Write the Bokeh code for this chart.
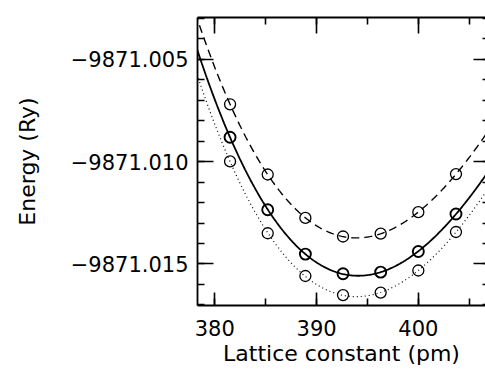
import numpy as np
from bokeh.plotting import figure
from bokeh.models import (Range1d, LinearAxis, SingleIntervalTicker,
                          CustomJSTickFormatter)
from bokeh.embed import file_html
from bokeh.resources import INLINE

# ---- data ----
lattice = [381.5, 385.2, 388.9, 392.6, 396.3, 400.0, 403.7]
energy_dashed = [-9871.00720, -9871.01063, -9871.01275, -9871.01366,
                 -9871.01352, -9871.01247, -9871.01061]
energy_solid = [-9871.00881, -9871.01235, -9871.01452, -9871.01548,
                -9871.01540, -9871.01439, -9871.01256]
energy_dotted = [-9871.00999, -9871.01350, -9871.01559, -9871.01652,
                 -9871.01640, -9871.01532, -9871.01344]

x_range = (378.3, 406.6)
y_range = (-9871.01703, -9871.00296)

FONT = "DejaVu Sans"

p = figure(width=485, height=368, output_backend="svg", toolbar_location=None,
           x_range=Range1d(*x_range), y_range=Range1d(*y_range),
           min_border_left=197, min_border_right=0, min_border_top=17,
           min_border_bottom=60, x_axis_label="Lattice constant (pm)",
           y_axis_label="Energy (Ry)")
p.xgrid.visible = False
p.ygrid.visible = False
p.outline_line_color = None
p.background_fill_color = "white"
p.border_fill_color = "white"

fmt_y = CustomJSTickFormatter(code="return (tick < 0 ? '\\u2212' : '') + Math.abs(tick).toFixed(3);")
fmt_x = CustomJSTickFormatter(code="return tick.toFixed(0);")


def style_axis(ax, ticker, major_in, minor_in, show_labels, line=True, standoff=0):
    ax.ticker = ticker
    ax.major_tick_in = major_in
    ax.major_tick_out = 0
    ax.minor_tick_in = minor_in
    ax.minor_tick_out = 0
    ax.major_tick_line_color = "black"
    ax.minor_tick_line_color = "black"
    ax.major_tick_line_width = 1.6
    ax.minor_tick_line_width = 1.6
    ax.axis_line_color = "black" if line else None
    ax.axis_line_width = 1.8
    if not show_labels:
        ax.major_label_text_font_size = "0px"
        ax.major_label_standoff = standoff
        ax.major_label_text_color = None


xb = p.xaxis[0]
style_axis(xb, SingleIntervalTicker(interval=10, num_minor_ticks=2), 13, 7, True)
xb.formatter = fmt_x
xb.major_label_text_font = FONT
xb.major_label_text_font_size = "21px"
xb.major_label_text_color = "black"
xb.major_label_standoff = 14
xb.axis_label_text_font = FONT
xb.axis_label_text_font_size = "22px"
xb.axis_label_text_font_style = "normal"
xb.axis_label_text_color = "black"
xb.axis_label_standoff = 2

yl = p.yaxis[0]
style_axis(yl, SingleIntervalTicker(interval=0.005, num_minor_ticks=5), 16, 7, True)
yl.formatter = fmt_y
yl.major_label_text_font = FONT
yl.major_label_text_font_size = "21px"
yl.major_label_text_color = "black"
yl.major_label_standoff = 9
yl.axis_label_text_font = FONT
yl.axis_label_text_font_size = "22px"
yl.axis_label_text_font_style = "normal"
yl.axis_label_text_color = "black"
yl.axis_label_standoff = 28

xt = LinearAxis()
style_axis(xt, SingleIntervalTicker(interval=10, num_minor_ticks=2), 16, 7, False)
p.add_layout(xt, "above")

yr = LinearAxis()
style_axis(yr, SingleIntervalTicker(interval=0.005, num_minor_ticks=5), 12, 3, False,
           line=False, standoff=-7)
p.add_layout(yr, "right")

# fitted curves (cubic least-squares fit of each series)
xs = np.array(lattice)
xc = xs.mean()
xfine = np.linspace(x_range[0] - 1, x_range[1] + 1, 300)

series = [
    (energy_dashed, 1.4, "8 5", 1.3),
    (energy_solid, 1.8, "solid", 1.9),
    (energy_dotted, 1.2, "1 3", 1.3),
]
for ys, lw, dash, cw in series:
    ya = np.array(ys)
    yc = ya.mean()
    coef = np.polyfit(xs - xc, ya - yc, 3)
    yfine = np.polyval(coef, xfine - xc) + yc
    p.line(xfine, yfine, line_color="black", line_width=lw, line_dash=dash)
    p.scatter(lattice, ys, marker="circle", size=11, fill_color=None,
              line_color="black", line_width=cw)

open("out.html", "w").write(file_html(p, INLINE))
